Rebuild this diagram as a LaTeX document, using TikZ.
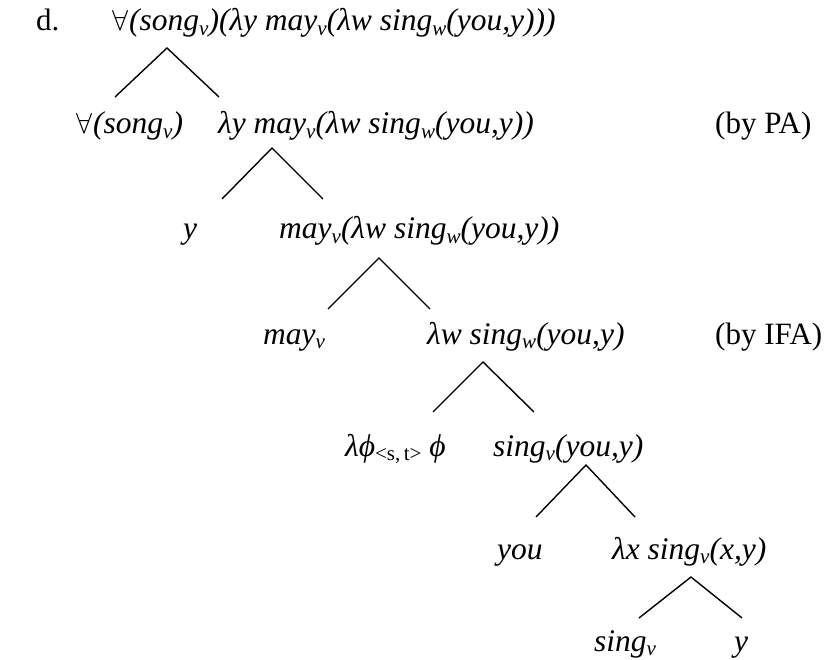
\documentclass[tikz,border=0pt]{standalone}
\usepackage{fontspec}
\usepackage{graphicx}
\setmainfont{Liberation Serif}
\newcommand\sbs[1]{\raisebox{-0.28ex}{\fontsize{21}{21}\selectfont\itshape #1}}
\newcommand\fa{\resizebox{!}{20pt}{$\forall$}\kern1pt}
\tikzset{
  lbl/.style={anchor=base west, inner sep=0pt, font=\fontsize{31.5}{36}\selectfont\itshape},
  rom/.style={anchor=base west, inner sep=0pt, font=\fontsize{31}{36}\selectfont},
  branch/.style={line width=1.4pt}
}
\begin{document}
\begin{tikzpicture}[x=1pt,y=-1pt]
\useasboundingbox (0,0) rectangle (827,660);
% labels
\node[rom] (d) at (36,31) {d.};
\node[lbl] (n1) at (112,31) {\fa(song\sbs{v})(λy may\sbs{v}(λw sing\sbs{w}(you,y)))};
\node[lbl] (n2) at (76,134) {\fa(song\sbs{v})};
\node[lbl] (n3) at (218,134) {λy may\sbs{v}(λw sing\sbs{w}(you,y))};
\node[rom] (pa) at (715,134) {(by PA)};
\node[lbl] (n4) at (183,239) {y};
\node[lbl] (n5) at (279,239) {may\sbs{v}(λw sing\sbs{w}(you,y))};
\node[lbl] (n6) at (263,344) {may\sbs{v}};
\node[lbl] (n7) at (427,344) {λw sing\sbs{w}(you,y)};
\node[rom] (ifa) at (715,344) {(by IFA)};
\node[lbl] (n8) at (345,456) {λϕ\raisebox{-0.3ex}{\fontsize{21}{21}\selectfont\upshape<s,\,t>} ϕ};
\node[lbl] (n9) at (493,456) {sing\sbs{v}(you,y)};
\node[lbl] (n10) at (497,559) {you};
\node[lbl] (n11) at (612,559) {λx sing\sbs{v}(x,y)};
\node[lbl] (n12) at (594,651) {sing\sbs{v}};
\node[lbl] (n13) at (734,651) {y};
% branch points
\coordinate (a1) at (167,48);  \coordinate (l1) at (115,97);  \coordinate (r1) at (219,97);
\coordinate (a2) at (272,148); \coordinate (l2) at (222,199); \coordinate (r2) at (323,199);
\coordinate (a3) at (379,258); \coordinate (l3) at (328,309); \coordinate (r3) at (430,309);
\coordinate (a4) at (483,362); \coordinate (l4) at (433,412); \coordinate (r4) at (534,412);
\coordinate (a5) at (586,465); \coordinate (l5) at (536,517); \coordinate (r5) at (635,517);
\coordinate (a6) at (691,577); \coordinate (l6) at (639,618); \coordinate (r6) at (742,618);
\foreach \i in {1,...,6}{
  \draw[branch] (l\i) -- (a\i) -- (r\i);
}
\end{tikzpicture}
\end{document}
